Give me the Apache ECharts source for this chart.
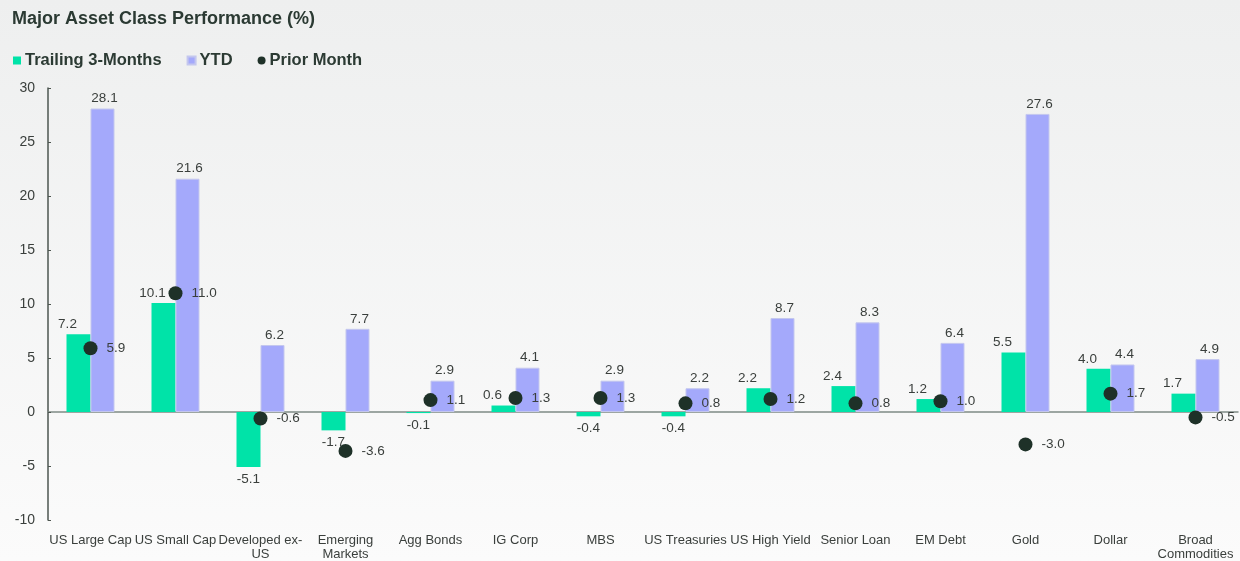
<!DOCTYPE html>
<html>
<head>
<meta charset="utf-8">
<script src="https://cdn.jsdelivr.net/npm/echarts@6/dist/echarts.min.js"></script>
<style>
  html, body { margin: 0; padding: 0; }
  #chart { width: 1240px; height: 561px; }
</style>
</head>
<body>
<div id="chart"></div>
<script>
// 数据
const categories = ['US Large Cap', 'US Small Cap', 'Developed ex-\nUS', 'Emerging\nMarkets', 'Agg Bonds', 'IG Corp', 'MBS',
  'US Treasuries', 'US High Yield', 'Senior Loan', 'EM Debt', 'Gold', 'Dollar', 'Broad\nCommodities']
const trailing3m = [7.2, 10.1, -5.1, -1.7, -0.1, 0.6, -0.4, -0.4, 2.2, 2.4, 1.2, 5.5, 4.0, 1.7]
const ytd = [28.1, 21.6, 6.2, 7.7, 2.9, 4.1, 2.9, 2.2, 8.7, 8.3, 6.4, 27.6, 4.4, 4.9]
const priorMonth = [5.9, 11.0, -0.6, -3.6, 1.1, 1.3, 1.3, 0.8, 1.2, 0.8, 1.0, -3.0, 1.7, -0.5]
const yTicks = [-10, -5, 0, 5, 10, 15, 20, 25, 30]

const textColor = '#3a3f3c'
const fmt = p => Number(p.value).toFixed(1)

// 正数标签在上，负数标签在下
const barData = (arr, dx) => arr.map(v => ({
  value: v,
  label: v >= 0
    ? {position: 'top', offset: [dx, 0]}
    : {position: 'bottom', offset: [0, 2]}
}))

const myChart = echarts.init(document.getElementById('chart'))
myChart.setOption({
  backgroundColor: {
    type: 'linear', x: 0, y: 0, x2: 0, y2: 1,
    colorStops: [{offset: 0, color: '#eeefef'}, {offset: 1, color: '#fbfbfb'}]
  },
  textStyle: {fontFamily: 'Liberation Sans, Arial, sans-serif', color: textColor},
  title: {
    text: 'Major Asset Class Performance (%)',
    left: 12, top: 10, padding: 0,
    textStyle: {fontSize: 18, fontWeight: 'bold', color: '#2b3a33'}
  },
  legend: {
    left: 13, top: 52, padding: 0,
    itemWidth: 8, itemHeight: 8, itemGap: 25,
    textStyle: {fontSize: 16.5, fontWeight: 'bold', color: '#2b3a33', padding: [0, 0, 0, -1]},
    data: [
      {name: 'Trailing 3-Months', icon: 'rect'},
      {name: 'YTD', icon: 'rect'},
      {name: 'Prior Month', icon: 'circle'}
    ]
  },
  grid: {left: 48, right: 2, top: 88, bottom: 41, containLabel: false, outerBoundsMode: 'none'},
  xAxis: [
    {
      type: 'category',
      data: categories,
      axisLine: {show: false, onZero: false},
      axisTick: {show: false},
      axisLabel: {interval: 0, fontSize: 13, color: textColor, margin: 13, lineHeight: 14}
    },
    {
      type: 'category',
      data: categories,
      position: 'bottom',
      axisLine: {show: true, onZero: true, lineStyle: {color: '#7f8a85', width: 1.5}},
      axisTick: {show: false},
      axisLabel: {show: false}
    }
  ],
  yAxis: {
    type: 'value',
    min: yTicks[0], max: yTicks[yTicks.length - 1], interval: 5,
    splitLine: {show: false},
    axisLine: {show: true, lineStyle: {color: '#4d5650', width: 1.5}},
    axisTick: {show: true, length: 3, inside: true, lineStyle: {color: '#4d5650'}},
    axisLabel: {fontSize: 14, color: textColor, margin: 13}
  },
  series: [
    {
      name: 'Trailing 3-Months',
      type: 'bar',
      barWidth: 24,
      barGap: '0%',
      data: barData(trailing3m, -11),
      itemStyle: {color: '#00e3a8'},
      label: {show: true, fontSize: 13.5, color: textColor, formatter: fmt, distance: 3}
    },
    {
      name: 'YTD',
      type: 'bar',
      barWidth: 24,
      data: barData(ytd, 2),
      itemStyle: {color: '#a4a9fb', borderColor: '#c4c7ee', borderWidth: 1},
      label: {show: true, fontSize: 13.5, color: textColor, formatter: fmt, distance: 3}
    },
    {
      name: 'Prior Month',
      type: 'scatter',
      symbolSize: 14,
      z: 5,
      data: priorMonth,
      itemStyle: {color: '#1e3128', opacity: 1},
      label: {show: true, position: 'right', distance: 9, fontSize: 13.5, color: textColor, formatter: fmt}
    }
  ]
})
</script>
</body>
</html>
